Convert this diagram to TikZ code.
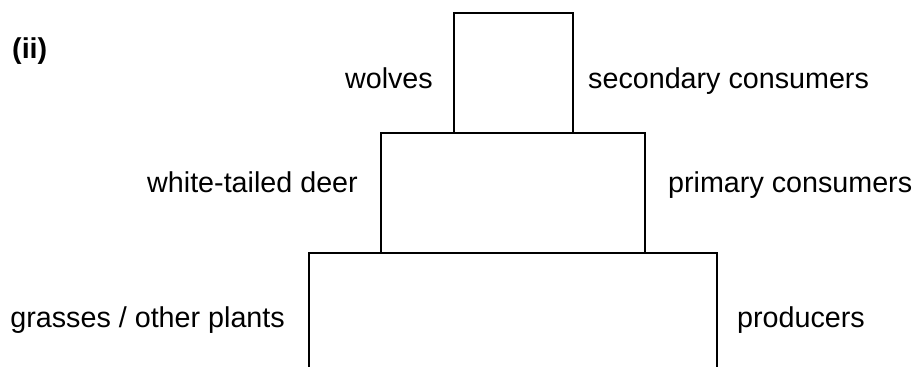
\documentclass[tikz,border=0pt]{standalone}
\usepackage{fontspec}
\setmainfont{Liberation Sans}
\begin{document}
\begin{tikzpicture}[x=1pt,y=-1pt,
  boxline/.style={draw=black,line width=2pt},
  lbl/.style={inner sep=0pt,font=\fontsize{28.7}{32}\selectfont}]
\useasboundingbox (0,0) rectangle (914,367);
\coordinate (t1) at (454,13);
\coordinate (t2) at (573,133);
\coordinate (m1) at (381,133);
\coordinate (m2) at (645,253);
\coordinate (b1) at (309,367);
\coordinate (b2) at (309,253);
\coordinate (b3) at (717,253);
\coordinate (b4) at (717,367);
\draw[boxline] (t1) rectangle (t2);
\draw[boxline] (m1) rectangle (m2);
\draw[boxline] (b1) -- (b2) -- (b3) -- (b4);
\node[lbl,anchor=base west,font=\fontsize{28.7}{32}\selectfont\bfseries] (ii) at (12,58) {(ii)};
\node[lbl,anchor=base east] (wolves) at (433,88) {wolves};
\node[lbl,anchor=base west] (sec) at (588,88) {secondary consumers};
\node[lbl,anchor=base east] (deer) at (358,192) {white-tailed deer};
\node[lbl,anchor=base west] (prim) at (668,192) {primary consumers};
\node[lbl,anchor=base east] (grass) at (285,327) {grasses / other plants};
\node[lbl,anchor=base west] (prod) at (737,327) {producers};
\end{tikzpicture}
\end{document}
